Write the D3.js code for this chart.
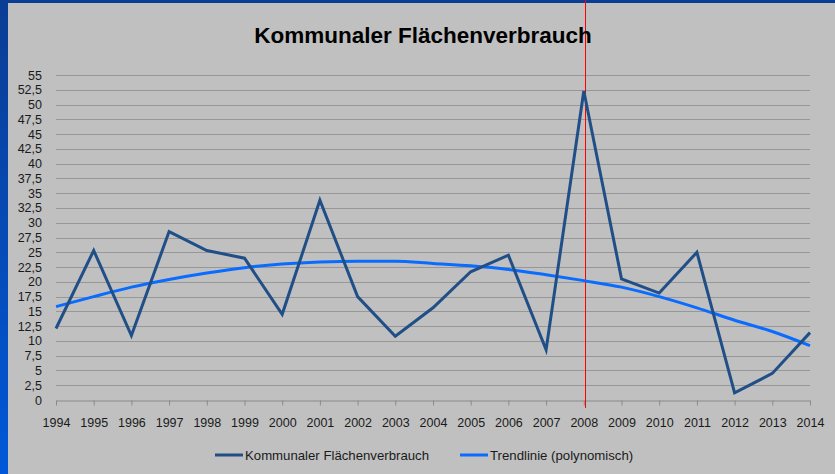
<!DOCTYPE html>
<html>
<head>
<meta charset="utf-8">
<script src="https://cdn.jsdelivr.net/npm/d3@7"></script>
<style>
  body { margin: 0; background: #0a3f9a; }
  svg { display: block; font-family: "Liberation Sans", Arial, sans-serif; }
</style>
</head>
<body>
<div id="chart"></div>
<script>
// DATA
const years = [1994, 1995, 1996, 1997, 1998, 1999, 2000, 2001, 2002, 2003, 2004,
               2005, 2006, 2007, 2008, 2009, 2010, 2011, 2012, 2013, 2014];
const verbrauch = [12.1, 25.3, 10.9, 28.5, 25.3, 24.0, 14.5, 33.8, 17.5, 10.8, 15.6,
                   21.7, 24.5, 8.5, 52.3, 20.5, 18.1, 25.0, 1.2, 4.5, 11.4];
const trend = [15.8, 17.5, 19.1, 20.4, 21.5, 22.4, 23.0, 23.35, 23.5, 23.5, 23.1,
               22.7, 22.1, 21.2, 20.2, 19.1, 17.5, 15.6, 13.5, 11.6, 9.2];
const yTicks = d3.range(0, 55.1, 2.5);
const markYear = 2008;
const title = "Kommunaler Flächenverbrauch";
const legendLabels = ["Kommunaler Flächenverbrauch", "Trendlinie (polynomisch)"];

const W = 835, H = 474;
const margin = { top: 75, right: 25, bottom: 74, left: 56 };

const svg = d3.select("#chart").append("svg")
    .attr("width", W)
    .attr("height", H);

// BACKGROUND: BLUE FRAME + GRAY PANEL
const grad = svg.append("defs").append("linearGradient")
    .attr("id", "side").attr("x1", 0).attr("y1", 0).attr("x2", 0).attr("y2", 1);
grad.append("stop").attr("offset", "0%").attr("stop-color", "#0a3d94");
grad.append("stop").attr("offset", "100%").attr("stop-color", "#0058d8");
svg.append("rect").attr("width", W).attr("height", H).attr("fill", "url(#side)");
svg.append("rect").attr("x", 0).attr("y", 0).attr("width", W).attr("height", 3).attr("fill", "#0a3d94");
svg.append("rect").attr("x", 8).attr("y", 3).attr("width", W - 8).attr("height", H - 3).attr("fill", "#c0c0c0");

// SCALES
const x = d3.scaleLinear()
    .domain(d3.extent(years))
    .range([margin.left, W - margin.right]);
const y = d3.scaleLinear()
    .domain([0, 55])
    .range([H - margin.bottom, margin.top]);

const fmt = v => String(v).replace(".", ",");

// GRIDLINES
svg.append("g")
    .selectAll("line")
    .data(yTicks.filter(d => d > 0))
    .join("line")
    .attr("x1", x.range()[0]).attr("x2", x.range()[1])
    .attr("y1", d => Math.round(y(d)) + 0.5).attr("y2", d => Math.round(y(d)) + 0.5)
    .attr("stroke", "#979797").attr("stroke-width", 1.2);

// Y AXIS
const yAxis = svg.append("g")
    .attr("transform", `translate(${margin.left - 14},0)`)
    .call(d3.axisLeft(y).tickValues(yTicks).tickFormat(fmt).tickSize(0).tickPadding(0));
yAxis.select(".domain").remove();
yAxis.selectAll("text").attr("fill", "#1a1a1a").style("font-size", "12.5px");

// X AXIS
const xAxis = svg.append("g")
    .attr("transform", `translate(0,${Math.round(y(0)) + 0.5})`)
    .call(d3.axisBottom(x).tickValues(years).tickFormat(d3.format("d")).tickSize(5).tickSizeOuter(0).tickPadding(13));
xAxis.select(".domain").attr("stroke", "#8a8a8a").attr("stroke-width", 1.2);
xAxis.selectAll(".tick line").attr("stroke", "#8a8a8a");
xAxis.selectAll("text").attr("fill", "#1a1a1a").style("font-size", "12.5px");

// RED MARKER LINE
const mx = Math.round(x(markYear)) + 1.5;
svg.append("line")
    .attr("x1", mx).attr("x2", mx)
    .attr("y1", 0).attr("y2", y(0) + 8)
    .attr("stroke", "#ff0000").attr("stroke-width", 1);

// TREND LINE
svg.append("path")
    .datum(years.map((d, i) => [d, trend[i]]))
    .attr("d", d3.line().x(d => x(d[0])).y(d => y(d[1])).curve(d3.curveMonotoneX))
    .attr("fill", "none")
    .attr("stroke", "#0a6cff")
    .attr("stroke-width", 3);

// DATA LINE
svg.append("path")
    .datum(years.map((d, i) => [d, verbrauch[i]]))
    .attr("d", d3.line().x(d => x(d[0])).y(d => y(d[1])))
    .attr("fill", "none")
    .attr("stroke", "#204f88")
    .attr("stroke-width", 3)
    .attr("stroke-linejoin", "miter");

// TITLE
svg.append("text")
    .attr("x", 423).attr("y", 43)
    .attr("text-anchor", "middle")
    .attr("fill", "#000")
    .style("font-size", "22.5px")
    .style("font-weight", "bold")
    .style("letter-spacing", "0px")
    .text(title);

// LEGEND
const legendColors = ["#204f88", "#0a6cff"];
const legendX = [215, 460];
const legend = svg.append("g");
legendLabels.forEach((label, i) => {
  legend.append("line")
      .attr("x1", legendX[i]).attr("x2", legendX[i] + 28)
      .attr("y1", 455).attr("y2", 455)
      .attr("stroke", legendColors[i]).attr("stroke-width", 3);
  legend.append("text")
      .attr("x", legendX[i] + 30).attr("y", 459.5)
      .attr("fill", "#1a1a1a")
      .style("font-size", "13.2px")
      .text(label);
});
</script>
</body>
</html>
